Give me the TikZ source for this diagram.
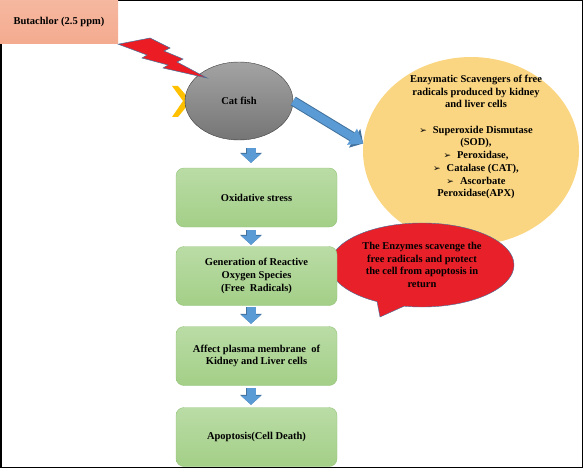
\documentclass[tikz,border=0pt]{standalone}
\usepackage{fontspec}
\setmainfont{Liberation Serif}
\newfontfamily\dingfont{DejaVu Sans}
\usetikzlibrary{shapes.geometric,shapes.callouts,arrows.meta}

\definecolor{boxgreen}{HTML}{A3CF87}
\definecolor{boxgreenlight}{HTML}{BADCA6}
\definecolor{boxgreenedge}{HTML}{94C47A}
\definecolor{flowblue}{HTML}{5B9BD5}
\definecolor{flowblueedge}{HTML}{41719C}
\definecolor{butachlorpink}{HTML}{F4AB8F}
\definecolor{scavyellow}{HTML}{FBD682}
\definecolor{bubblered}{HTML}{E8202A}
\definecolor{boltred}{HTML}{EC1C24}
\definecolor{chevronyellow}{HTML}{FFC000}

\newcommand{\bul}{{\dingfont\fontsize{9}{9}\selectfont\char"27A2}\hspace{6pt}}

\begin{document}
\begin{tikzpicture}[x=1pt,y=-1pt,font=\fontsize{10.5}{12.7}\selectfont\bfseries]

    \useasboundingbox (0,0) rectangle (583,468);
    \draw[line width=1.5pt] (0.75,0.75) rectangle (582.25,467.25);

    \coordinate (col) at (251,0);

    % scavenger circle and the red callout
    \node[ellipse,fill=scavyellow,minimum width=216,minimum height=188] (scav) at (471,151) {};
    \node[align=center] (scavtext) at (476,137) {Enzymatic Scavengers of free\\radicals produced by kidney\\and liver cells\\[12.7pt]
        \bul Superoxide Dismutase\\(SOD),\\\bul Peroxidase,\\\bul Catalase (CAT),\\\bul Ascorbate\\Peroxidase(APX)};
    \node[ellipse callout,callout absolute pointer={(380,317)},callout pointer arc=18,fill=bubblered,draw=flowblueedge,
        minimum width=184,minimum height=84,inner sep=0,align=center] (bubble) at (422,265)
        {The Enzymes scavenge the\\free radicals and protect\\the cell from apoptosis in\\return};

    % fish
    \fill[chevronyellow] (172,86) -- (178,86) -- (191,101) -- (178,117) -- (172,117) -- (183,101) -- cycle;
    \node[ellipse,draw=black!75,top color=black!36,bottom color=black!54,minimum width=108,minimum height=78,inner sep=0] (fish) at (239,101) {Cat fish};

    \node[top color=butachlorpink!85,bottom color=butachlorpink,minimum width=118,minimum height=44,inner sep=0] (butachlor) at (59,22) {Butachlor (2.5 ppm)};
    \filldraw[fill=boltred,draw=flowblueedge,line width=0.5pt] (butachlor.south east) -- (150,38) -- (170,48) -- (164,51) -- (183,59) -- (177,62)
        -- (207,78) -- (163,68) -- (168,65) -- (142,58) -- (147,55) -- cycle;

    \begin{scope}[every node/.style={rectangle,rounded corners=8pt,draw=boxgreenedge,top color=boxgreenlight,bottom color=boxgreen,
            minimum width=161,minimum height=59,align=center,inner sep=2pt}]
        \node (oxstress) at (256.5,197.5) {Oxidative stress};
        \node (ros) at (256.5,276) {Generation of Reactive\\Oxygen Species\\(Free\ \ Radicals)};
        \node (membrane) at (256.5,356) {Affect plasma membrane\ \ of\\Kidney and Liver cells};
        \node (apoptosis) at (256.5,437) {Apoptosis(Cell Death)};
    \end{scope}

    \begin{scope}[every edge/.style={draw=flowblue,line width=9pt,-{Triangle[length=9pt,width=20pt,line width=0pt]},
            preaction={draw=flowblueedge,line width=10pt,-{Triangle[length=10pt,width=22pt,line width=0pt]}}}]
        \path (fish.south -| col) edge [shorten <=8pt,shorten >=5pt] (oxstress.north -| col);
        \path (oxstress.south -| col) edge [shorten <=3pt,shorten >=1.5pt] (ros.north -| col);
        \path (ros.south -| col) edge [shorten <=1.5pt,shorten >=2.5pt] (membrane.north -| col);
        \path (membrane.south -| col) edge [shorten <=2.5pt,shorten >=2.5pt] (apoptosis.north -| col);

        \path (fish.east) edge [line width=8pt,-{Triangle[length=13pt,width=19pt,line width=0pt]}] (scav.176);
    \end{scope}

\end{tikzpicture}
\end{document}
